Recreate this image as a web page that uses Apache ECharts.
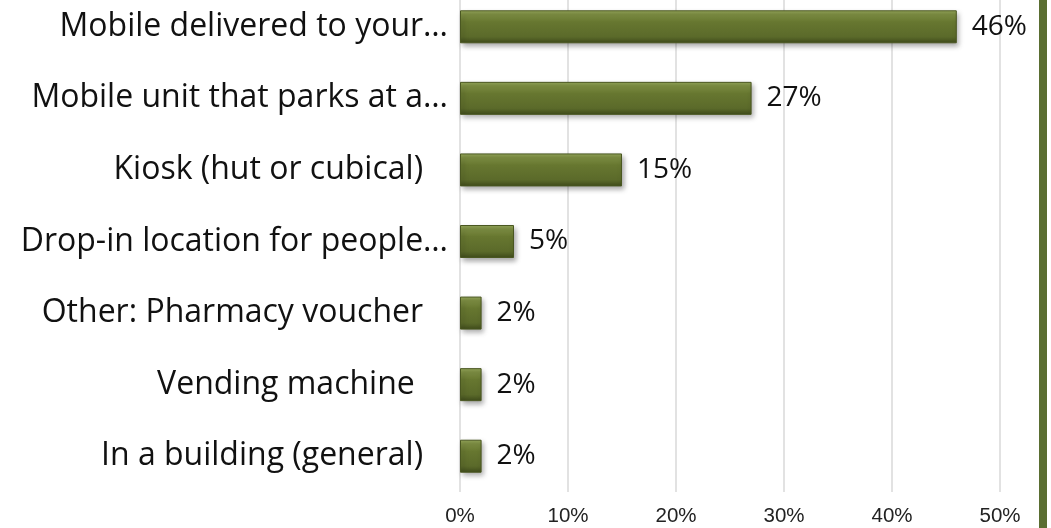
<!DOCTYPE html>
<html>
<head>
<meta charset="utf-8">
<script src="https://cdn.jsdelivr.net/npm/echarts@6/dist/echarts.min.js"></script>
<style>
html,body{margin:0;padding:0;background:#fff;overflow:hidden;}
#chart{width:1051px;height:537px;margin-top:-9px;}
</style>
</head>
<body>
<div id="chart"></div>
<script>
const categories = [
  "Mobile delivered to your…",
  "Mobile unit that parks at a…",
  "Kiosk (hut or cubical)   ",
  "Drop-in location for people…",
  "Other: Pharmacy voucher   ",
  "Vending machine    ",
  "In a building (general)   "
];
const values = [46, 27, 15, 5, 2, 2, 2];
const tickMax = 50;
const tickInterval = 10;

const chart = echarts.init(document.getElementById('chart'), null, {renderer: 'canvas'});
const barGradient = new echarts.graphic.LinearGradient(0, 0, 0, 1, [
  {offset: 0, color: '#97a95c'},
  {offset: 0.12, color: '#7f9044'},
  {offset: 0.35, color: '#677730'},
  {offset: 0.8, color: '#5b6a2a'},
  {offset: 1, color: '#3f4b1b'}
]);
chart.setOption({
  animation: false,
  backgroundColor: '#ffffff',
  grid: {left: 460, right: 51, top: 0, bottom: 36, containLabel: false},
  xAxis: {
    type: 'value',
    min: 0, max: tickMax, interval: tickInterval,
    axisLine: {show: false},
    axisTick: {show: false},
    splitLine: {show: true, lineStyle: {color: '#d9d9d9', width: 1.5}},
    axisLabel: {
      formatter: v => v + '%',
      fontFamily: 'Liberation Sans, Arial, sans-serif',
      fontSize: 20.5,
      color: '#222',
      margin: 14
    }
  },
  yAxis: {
    type: 'category',
    data: categories,
    inverse: true,
    axisLine: {show: false},
    axisTick: {show: false},
    splitLine: {show: false},
    axisLabel: {
      fontFamily: 'Open Sans, sans-serif',
      fontSize: 32,
      color: '#111',
      margin: 12
    }
  },
  series: [{
    type: 'bar',
    data: values,
    barWidth: 33,
    itemStyle: {
      color: barGradient,
      borderColor: '#4a5721',
      borderWidth: 1,
      shadowColor: 'rgba(0,0,0,0.35)',
      shadowBlur: 5,
      shadowOffsetX: 2,
      shadowOffsetY: 3
    },
    label: {
      show: true,
      position: 'right',
      distance: 15,
      formatter: p => p.value + '%',
      fontFamily: 'Open Sans, sans-serif',
      fontSize: 28,
      color: '#111'
    }
  }],
  graphic: [{
    type: 'rect',
    right: 4,
    top: 0,
    shape: {width: 8, height: 537},
    style: {fill: '#5a6e32'}
  }]
});
</script>
</body>
</html>
